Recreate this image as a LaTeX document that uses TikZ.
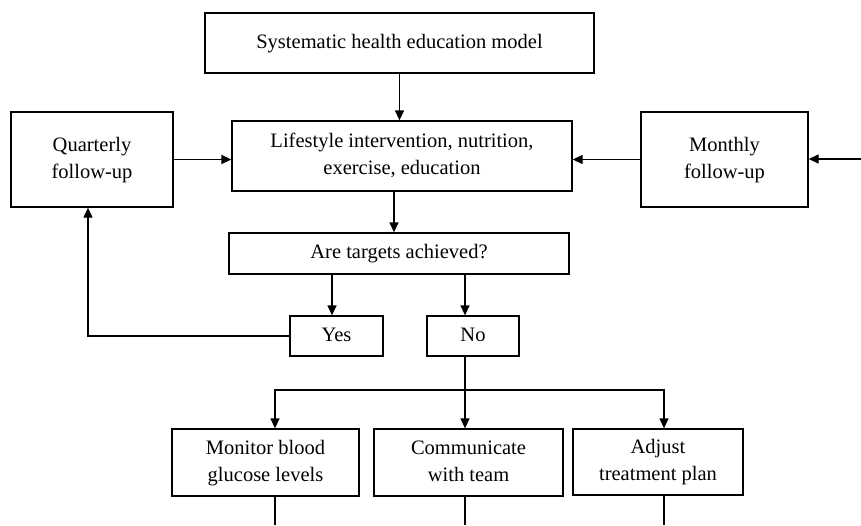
\documentclass[tikz,border=0pt]{standalone}
\usepackage{fontspec}
\setmainfont{Liberation Serif}
\usetikzlibrary{arrows.meta}
\newcommand{\ls}[1]{\strut#1\strut}
\begin{document}
\begin{tikzpicture}[x=1pt,y=-1pt,
  box/.style={draw,line width=1.3pt,inner sep=0pt,align=center,
    font=\fontsize{20.5}{27}\selectfont},
  arr/.style={line width=1.3pt,-{Triangle[length=10pt,width=9pt]}},
  ln/.style={line width=1.3pt}]
\useasboundingbox (0,0) rectangle (861,525);
\node[box,minimum width=389pt,minimum height=60pt] (top) at (399.5,43) {\ls{Systematic health education model}};
\node[box,minimum width=340pt,minimum height=70pt] (life) at (402,156) {\ls{Lifestyle intervention, nutrition,}\\\ls{exercise, education}};
\node[box,minimum width=162pt,minimum height=95pt] (quart) at (92,159.5) {\ls{Quarterly}\\\ls{follow-up}};
\node[box,minimum width=167pt,minimum height=95pt] (month) at (724.5,159.5) {\ls{Monthly}\\\ls{follow-up}};
\node[box,minimum width=340pt,minimum height=41pt] (targ) at (399,253.5) {\ls{Are targets achieved?}};
\node[box,minimum width=93pt,minimum height=40pt] (yes) at (336.5,336) {\ls{Yes}};
\node[box,minimum width=92pt,minimum height=40pt] (no) at (473,336) {\ls{No}};
\node[box,minimum width=187pt,minimum height=67pt] (mon) at (265.5,462.5) {\ls{Monitor blood}\\\ls{glucose levels}};
\node[box,minimum width=189pt,minimum height=67pt] (com) at (468.5,462.5) {\ls{Communicate}\\\ls{with team}};
\node[box,minimum width=170pt,minimum height=66pt] (adj) at (658,462) {\ls{Adjust}\\\ls{treatment plan}};
% helper coordinates
\coordinate (lx) at (394,0);
\coordinate (yx) at (332,0);
\coordinate (nx) at (465,0);
\coordinate (qx) at (88,0);
\coordinate (mx) at (275,0);
\coordinate (ax) at (664,0);
\coordinate (hy) at (0,390);
\coordinate (by) at (0,525);
\coordinate (rin) at (861,159);
% connectors
\draw[arr] (top.south) -- (top.south |- life.north);
\draw[arr] (lx |- life.south) -- (lx |- targ.north);
\draw[arr] (quart.east) -- (quart.east -| life.west);
\draw[arr] (month.west) -- (month.west -| life.east);
\draw[arr] (rin) -- (rin -| month.east);
\draw[arr] (yx |- targ.south) -- (yx |- yes.north);
\draw[arr] (nx |- targ.south) -- (nx |- no.north);
\draw[arr] (yes.west) -| (qx |- quart.south);
\draw[arr] (nx |- no.south) -- (nx |- com.north);
\draw[arr] (nx |- hy) -| (mx |- mon.north);
\draw[arr] (nx |- hy) -| (ax |- adj.north);
\draw[ln] (mx |- mon.south) -- (mx |- by);
\draw[ln] (nx |- com.south) -- (nx |- by);
\draw[ln] (ax |- adj.south) -- (ax |- by);
\end{tikzpicture}
\end{document}
